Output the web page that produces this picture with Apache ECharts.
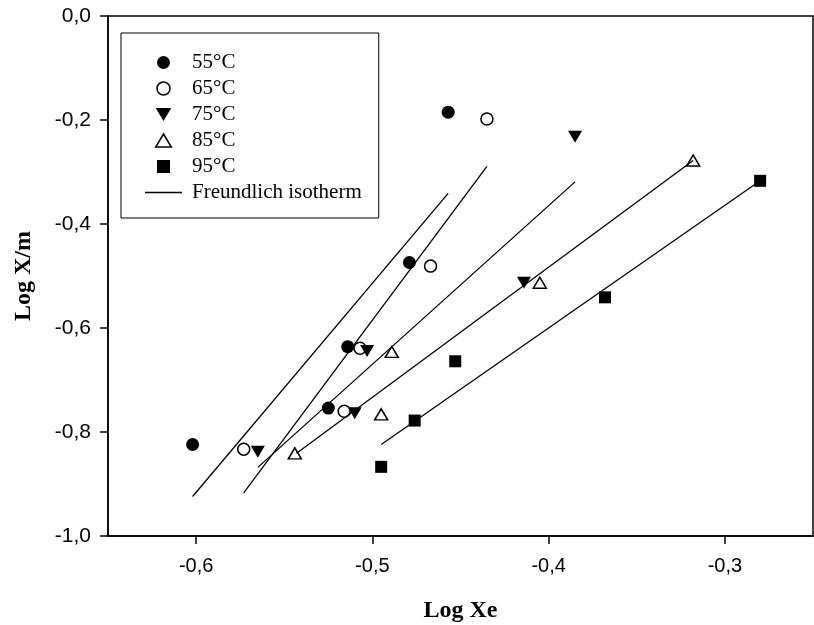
<!DOCTYPE html>
<html>
<head>
<meta charset="utf-8">
<script src="https://cdn.jsdelivr.net/npm/echarts@6/dist/echarts.min.js"></script>
<style>
  html, body { margin: 0; padding: 0; background: #fff; }
  #chart { width: 814px; height: 625px; }
</style>
</head>
<body>
<div id="chart"></div>
<script>
// measured values (Log Xe, Log X/m) per temperature
const temps = ['55°C', '65°C', '75°C', '85°C', '95°C'];
const logXe55 = [-0.602, -0.525, -0.514, -0.479, -0.457];
const logXm55 = [-0.824, -0.754, -0.636, -0.474, -0.185];
const logXe65 = [-0.573, -0.516, -0.507, -0.467, -0.435];
const logXm65 = [-0.833, -0.760, -0.639, -0.481, -0.198];
const logXe75 = [-0.565, -0.510, -0.503, -0.414, -0.385];
const logXm75 = [-0.838, -0.764, -0.644, -0.513, -0.232];
const logXe85 = [-0.544, -0.495, -0.489, -0.405, -0.318];
const logXm85 = [-0.841, -0.766, -0.646, -0.513, -0.278];
const logXe95 = [-0.495, -0.476, -0.453, -0.368, -0.280];
const logXm95 = [-0.867, -0.778, -0.664, -0.541, -0.317];

// Freundlich fit lines: start / end points
const fitXe = [[-0.602, -0.457], [-0.573, -0.435], [-0.565, -0.385], [-0.543, -0.318], [-0.495, -0.280]];
const fitXm = [[-0.924, -0.341], [-0.917, -0.289], [-0.868, -0.319], [-0.841, -0.278], [-0.824, -0.317]];

const xTicks = [-0.6, -0.5, -0.4, -0.3];

const fmt = v => v.toFixed(1).replace('.', ',').replace(/^-0,0$/, '0,0');
const zip = (xs, ys) => xs.map((x, i) => [x, ys[i]]);

const downTri = 'path://M0,0L12,0L6,10Z';
const upTri = 'path://M6,0L12,10L0,10Z';
const sq = 'path://M0,0L10,0L10,10L0,10Z';
const lineIcon = 'path://M0,0L40,0L40,1.4L0,1.4Z';

const filled = { color: '#000', opacity: 1 };
const hollow = { color: '#fff', borderColor: '#000', borderWidth: 1.5, opacity: 1 };

const scatterDefs = [
  { name: temps[0], data: zip(logXe55, logXm55), symbol: 'circle', symbolSize: 13, itemStyle: filled },
  { name: temps[1], data: zip(logXe65, logXm65), symbol: 'circle', symbolSize: 12, itemStyle: hollow },
  { name: temps[2], data: zip(logXe75, logXm75), symbol: downTri, symbolSize: [14, 12], itemStyle: filled },
  { name: temps[3], data: zip(logXe85, logXm85), symbol: upTri, symbolSize: [13, 11], itemStyle: hollow },
  { name: temps[4], data: zip(logXe95, logXm95), symbol: sq, symbolSize: 12, itemStyle: filled }
];

const series = scatterDefs.map(d => Object.assign({ type: 'scatter', z: 2 }, d));
fitXe.forEach((xs, i) => {
  series.push({
    name: 'Freundlich isotherm',
    type: 'line',
    z: 3,
    symbol: 'none',
    data: zip(xs, fitXm[i]),
    lineStyle: { color: '#000', width: 1.3 },
    itemStyle: { color: '#000' }
  });
});

const chart = echarts.init(document.getElementById('chart'));
chart.setOption({
  animation: false,
  backgroundColor: '#fff',
  grid: {
    left: 108, right: 1, top: 16, bottom: 89,
    containLabel: false,
    outerBoundsMode: 'none',
    show: true, borderColor: '#000', borderWidth: 1.5, backgroundColor: 'transparent'
  },
  legend: {
    orient: 'vertical',
    left: 121,
    top: 33,
    padding: [19, 17, 15, 24],
    borderColor: '#000',
    borderWidth: 1,
    itemWidth: 37,
    itemHeight: 13,
    itemGap: 5,
    textStyle: { fontFamily: 'Liberation Serif', fontSize: 21, color: '#000', padding: [0, 0, 0, 5] },
    data: [
      { name: temps[0], icon: 'circle', itemStyle: filled },
      { name: temps[1], icon: 'circle', itemStyle: hollow },
      { name: temps[2], icon: downTri, itemStyle: filled },
      { name: temps[3], icon: upTri, itemStyle: hollow },
      { name: temps[4], icon: sq, itemStyle: filled },
      { name: 'Freundlich isotherm', icon: lineIcon, itemStyle: filled }
    ]
  },
  xAxis: {
    type: 'value',
    min: -0.65,
    max: -0.25,
    name: 'Log Xe',
    nameLocation: 'middle',
    nameGap: 63,
    nameTextStyle: { fontFamily: 'Liberation Serif', fontWeight: 'bold', fontSize: 24, color: '#000' },
    splitLine: { show: false },
    axisLine: { onZero: false, lineStyle: { color: '#000', width: 1.5 } },
    axisTick: { length: 8, lineStyle: { color: '#000', width: 1.5 }, customValues: xTicks },
    axisLabel: {
      customValues: xTicks,
      margin: 20,
      fontFamily: 'Liberation Sans',
      fontSize: 20,
      color: '#000',
      formatter: fmt
    }
  },
  yAxis: {
    type: 'value',
    min: -1,
    max: 0,
    interval: 0.2,
    name: 'Log X/m',
    nameLocation: 'middle',
    nameGap: 72,
    nameTextStyle: { fontFamily: 'Liberation Serif', fontWeight: 'bold', fontSize: 24, color: '#000' },
    splitLine: { show: false },
    axisLine: { onZero: false, lineStyle: { color: '#000', width: 1.5 } },
    axisTick: { length: 8, lineStyle: { color: '#000', width: 1.5 } },
    axisLabel: {
      margin: 17,
      fontFamily: 'Liberation Sans',
      fontSize: 21,
      color: '#000',
      formatter: fmt
    }
  },
  series: series
});
</script>
</body>
</html>
